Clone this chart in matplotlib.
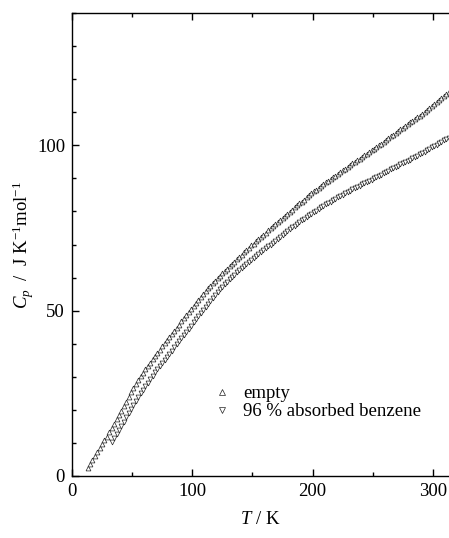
import matplotlib
matplotlib.use("Agg")
import matplotlib.pyplot as plt
from matplotlib.ticker import MultipleLocator

plt.rcParams['font.family'] = ['Liberation Serif', 'DejaVu Serif']
plt.rcParams['mathtext.fontset'] = 'custom'
plt.rcParams['mathtext.rm'] = 'Liberation Serif'
plt.rcParams['mathtext.it'] = 'Liberation Serif:italic'

# empty (up triangles), every 2 K
T_empty = [13, 15, 17, 19, 21, 23, 25, 27, 29, 31, 33, 35, 37, 39, 41, 43, 45,
           47, 49, 51, 53, 55, 57, 59, 61, 63, 65, 67, 69, 71, 73, 75, 77, 79,
           81, 83, 85, 87, 89, 91, 93, 95, 97, 99, 101, 103, 105, 107, 109, 111,
           113, 115, 117, 119, 121, 123, 125, 127, 129, 131, 133, 135, 137, 139,
           141, 143, 145, 147, 149, 151, 153, 155, 157, 159, 161, 163, 165, 167,
           169, 171, 173, 175, 177, 179, 181, 183, 185, 187, 189, 191, 193, 195,
           197, 199, 201, 203, 205, 207, 209, 211, 213, 215, 217, 219, 221, 223,
           225, 227, 229, 231, 233, 235, 237, 239, 241, 243, 245, 247, 249, 251,
           253, 255, 257, 259, 261, 263, 265, 267, 269, 271, 273, 275, 277, 279,
           281, 283, 285, 287, 289, 291, 293, 295, 297, 299, 301, 303, 305, 307,
           309, 311, 313]
Cp_empty = [2.5, 3.7, 4.9, 6.1, 7.3, 8.4, 9.6, 10.8, 11.9, 13.2, 14.5, 15.8,
            17.1, 18.4, 19.7, 21.1, 22.5, 23.9, 25.3, 26.6, 27.7, 28.9, 30.1,
            31.2, 32.3, 33.3, 34.3, 35.3, 36.3, 37.3, 38.2, 39.2, 40.1, 41.0,
            42.0, 42.9, 43.9, 44.9, 45.8, 46.8, 47.7, 48.7, 49.6, 50.5, 51.5,
            52.4, 53.3, 54.2, 55.1, 55.9, 56.7, 57.5, 58.3, 59.1, 59.9, 60.6,
            61.3, 62.0, 62.7, 63.4, 64.1, 64.8, 65.5, 66.2, 66.9, 67.6, 68.3,
            69.0, 69.7, 70.3, 71.0, 71.7, 72.3, 73.0, 73.6, 74.3, 74.9, 75.5,
            76.2, 76.8, 77.4, 78.1, 78.7, 79.3, 79.9, 80.5, 81.2, 81.8, 82.4,
            83.0, 83.6, 84.3, 84.9, 85.5, 86.1, 86.6, 87.2, 87.7, 88.2, 88.8,
            89.3, 89.8, 90.3, 90.8, 91.4, 91.9, 92.4, 92.9, 93.4, 94.0, 94.5,
            95.0, 95.5, 96.0, 96.5, 97.0, 97.5, 98.0, 98.5, 99.0, 99.5, 100.0,
            100.5, 101.0, 101.6, 102.1, 102.7, 103.2, 103.7, 104.3, 104.8, 105.3,
            105.8, 106.3, 106.9, 107.4, 108.0, 108.5, 109.0, 109.6, 110.1, 110.7,
            111.3, 111.8, 112.4, 113.0, 113.7, 114.3, 114.9, 115.5, 116.2]

# 96 % absorbed benzene (down triangles)
T_benz = [33, 35, 37, 39, 41, 43, 45, 47, 49, 51, 53, 55, 57, 59, 61, 63, 65,
          67, 69, 71, 73, 75, 77, 79, 81, 83, 85, 87, 89, 91, 93, 95, 97, 99,
          101, 103, 105, 107, 109, 111, 113, 115, 117, 119, 121, 123, 125, 127,
          129, 131, 133, 135, 137, 139, 141, 143, 145, 147, 149, 151, 153, 155,
          157, 159, 161, 163, 165, 167, 169, 171, 173, 175, 177, 179, 181, 183,
          185, 187, 189, 191, 193, 195, 197, 199, 201, 203, 205, 207, 209, 211,
          213, 215, 217, 219, 221, 223, 225, 227, 229, 231, 233, 235, 237, 239,
          241, 243, 245, 247, 249, 251, 253, 255, 257, 259, 261, 263, 265, 267,
          269, 271, 273, 275, 277, 279, 281, 283, 285, 287, 289, 291, 293, 295,
          297, 299, 301, 303, 305, 307, 309, 311, 313]
Cp_benz = [10.3, 11.5, 12.7, 13.9, 15.1, 16.4, 17.8, 19.1, 20.4, 21.6, 22.7,
           23.9, 25.0, 26.1, 27.2, 28.2, 29.3, 30.3, 31.3, 32.3, 33.2, 34.2,
           35.1, 36.0, 37.0, 37.9, 38.9, 39.8, 40.7, 41.7, 42.6, 43.6, 44.6,
           45.5, 46.5, 47.4, 48.4, 49.4, 50.3, 51.2, 52.1, 53.0, 53.9, 54.8,
           55.6, 56.4, 57.2, 58.0, 58.8, 59.5, 60.2, 60.9, 61.6, 62.3, 62.9,
           63.5, 64.1, 64.6, 65.2, 65.8, 66.4, 67.0, 67.6, 68.2, 68.8, 69.4,
           70.0, 70.6, 71.2, 71.8, 72.4, 73.0, 73.5, 74.1, 74.7, 75.2, 75.7,
           76.2, 76.7, 77.3, 77.8, 78.3, 78.8, 79.3, 79.7, 80.2, 80.7, 81.2,
           81.7, 82.1, 82.6, 83.0, 83.4, 83.9, 84.3, 84.7, 85.1, 85.5, 85.9,
           86.3, 86.7, 87.1, 87.4, 87.8, 88.2, 88.5, 88.9, 89.3, 89.6, 90.0,
           90.4, 90.8, 91.1, 91.5, 91.9, 92.3, 92.7, 93.0, 93.4, 93.8, 94.2,
           94.6, 94.9, 95.3, 95.7, 96.1, 96.5, 96.9, 97.3, 97.7, 98.1, 98.6,
           99.0, 99.4, 99.8, 100.2, 100.7, 101.1, 101.5, 101.9, 102.3]

fig = plt.figure(figsize=(4.49, 5.38), dpi=100)
# axes run a little past the right edge, like the cropped original
ax = fig.add_axes([72 / 449, 1 - 476 / 538, 385 / 449, 463 / 538])

mk = dict(linestyle='none', markersize=3.5, markerfacecolor='white',
          markeredgecolor='#222222', markeredgewidth=0.5)
ax.plot(T_empty, Cp_empty, marker='^', label='empty', **mk)
ax.plot(T_benz, Cp_benz, marker='v', label='96 % absorbed benzene', **mk)

ax.set_xlim(0, 320)
ax.set_ylim(0, 140)
ax.xaxis.set_major_locator(MultipleLocator(100))
ax.xaxis.set_minor_locator(MultipleLocator(50))
ax.yaxis.set_major_locator(MultipleLocator(50))
ax.yaxis.set_minor_locator(MultipleLocator(10))
ax.tick_params(which='both', direction='in', top=True, right=False,
               labelsize=13.5, width=1.0)
ax.tick_params(which='major', length=5, pad=5)
ax.tick_params(which='minor', length=3)
ax.spines['right'].set_visible(False)
for s in ax.spines.values():
    s.set_linewidth(1.0)

ax.set_xlabel('$T$ / K', fontsize=13.5)
ax.xaxis.set_label_coords((260 - 72) / 385, -(511 - 476) / 463)
ax.set_ylabel('$C_p$  /  J K$^{\\mathrm{-1}}$mol$^{\\mathrm{-1}}$', fontsize=13.5)
ax.yaxis.set_label_coords(-(72 - 36) / 385, 0.5)

ax.legend(loc='upper left', bbox_to_anchor=((215 - 72) / 385, (476 - 385) / 463),
          frameon=False, fontsize=13.5, handlelength=0.7, handletextpad=0.8,
          borderpad=0, borderaxespad=0, labelspacing=0.05, markerscale=1.2)

fig.savefig('out.png', dpi=100)
